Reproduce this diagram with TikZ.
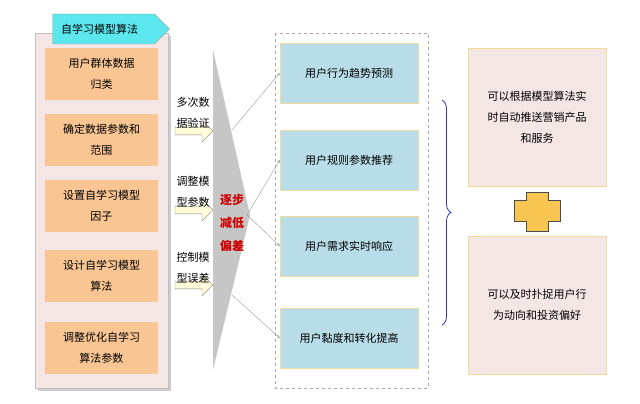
\documentclass[tikz,border=0pt]{standalone}
\usepackage{fontspec}
\setmainfont{Noto Sans CJK SC}
\usetikzlibrary{shapes.symbols, shapes.arrows, decorations.pathreplacing, positioning}
\definecolor{panel}{HTML}{F4E6E4}
\definecolor{orange1}{HTML}{F9C593}
\definecolor{cyan1}{HTML}{5CE6EE}
\definecolor{blue1}{HTML}{B8DDE9}
\definecolor{gold1}{HTML}{F8C650}
\definecolor{edge1}{HTML}{F0DC98}
\begin{document}
\begin{tikzpicture}[x=1pt,y=-1pt,font=\fontsize{11}{21}\selectfont,
                    >=stealth]
  \tikzset{step box/.style={rectangle,fill=orange1,draw=none,align=center,minimum width=113pt,minimum height=52pt},
           goal box/.style={rectangle,fill=blue1,draw=edge1,align=center,minimum width=138pt,minimum height=60pt},
           out box/.style={rectangle,fill=panel,draw=edge1,align=center,minimum width=138pt,minimum height=138pt},
           push arrow/.style={single arrow,fill=yellow!15,draw=gray,minimum height=38pt,minimum width=22pt,single arrow head extend=4pt,inner sep=2pt},
           link/.style={->,gray!80}}
  \useasboundingbox (0,0) rectangle (640,404);
  \fill[gray!40] (38,36) rectangle (171,391);
  \node[rectangle,fill=panel,draw=gray!50,minimum width=133pt,minimum height=355pt] (panel) at (101.5,210.5) {};
  \node[draw=gray!70,fill=cyan1,signal,signal to=east,minimum width=117pt,minimum height=30pt,inner sep=0pt] (title) at (103.5,29) {\hspace*{-8pt}自学习模型算法};
  \node[step box] (s1) at (101.5,74)  {用户群体数据\\归类};
  \node[step box] (s2) at (101.5,140) {确定数据参数和\\范围};
  \node[step box] (s3) at (101.5,206) {设置自学习模型\\因子};
  \node[step box] (s4) at (101.5,276) {设计自学习模型\\算法};
  \node[step box] (s5) at (101.5,348) {调整优化自学习\\算法参数};
  % arrows into the funnel
  \node[push arrow] (a1) at (192,131) {};
  \node[push arrow] (a2) at (192,210) {};
  \node[push arrow] (a3) at (192,285) {};
  \node[align=left] (t1) at (193,113) {多次数\\据验证};
  \node[align=left] (t2) at (193,192) {调整模\\型参数};
  \node[align=left] (t3) at (193,268) {控制模\\型误差};
  \fill[gray!45] (213,50) -- (250,215) -- (213,370) -- cycle;
  \node[text=red!80!black,font=\bfseries\fontsize{12}{23}\selectfont,align=center] (mid) at (232,223) {逐步\\减低\\偏差};
  \coordinate (fan) at (247,215);
  % goals
  \draw[dashed,draw=gray!50!pink] (275,33) rectangle (428,388);
  \node[goal box] (g1) at (349,73)  {用户行为趋势预测};
  \node[goal box] (g2) at (349,160) {用户规则参数推荐};
  \node[goal box] (g3) at (349,246) {用户需求实时响应};
  \node[goal box] (g4) at (349,338) {用户黏度和转化提高};
  \coordinate (up) at (232,130);
  \coordinate (down) at (232,295);
  \draw[link] (up) -- (g1.west);
  \draw[link] (fan) -- (g2.west);
  \draw[link] (fan) -- (g3.west);
  \draw[link] (down) -- (g4.west);
  \draw[decorate,decoration={brace,amplitude=9pt,aspect=0.5},draw=blue!60!gray,thick] (442,100) -- (442,325);
  \node[out box] (o1) at (537,117) {可以根据模型算法实\\时自动推送营销产品\\和服务};
  \node[out box] (o2) at (537,305) {可以及时扑捉用户行\\为动向和投资偏好};
  \draw[fill=gold1,draw=black!70] (526,192) -- (548,192) -- (548,200) -- (560,200) -- (560,221) -- (548,221) -- (548,231) -- (526,231) -- (526,221) -- (514,221) -- (514,200) -- (526,200) -- cycle;
\end{tikzpicture}
\end{document}
